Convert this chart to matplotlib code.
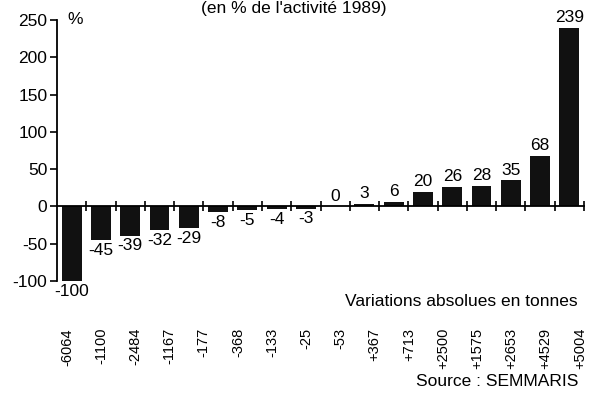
import matplotlib
matplotlib.use("Agg")
import matplotlib.pyplot as plt
import matplotlib.transforms as mtransforms

plt.rcParams['font.family'] = ['Liberation Sans', 'DejaVu Sans']
plt.rcParams['axes.unicode_minus'] = False

# variation in % of 1989 activity
pct = [-100, -45, -39, -32, -29, -8, -5, -4, -3, 0, 3, 6, 20, 26, 28, 35, 68, 239]
# absolute variations in tonnes (the original shows 16 labels under 18 bars)
tonnes = ['-6064', '-1100', '-2484', '-1167', '-177', '-368', '-133', '-25',
          '-53', '+367', '+713', '+2500', '+1575', '+2653', '+4529', '+5004']
yticks = [-100, -50, 0, 50, 100, 150, 200, 250]

FS = 12.5
W, H = 592, 409
fig = plt.figure(figsize=(W / 100, H / 100), dpi=100)
ax = fig.add_axes([57 / W, 1 - 281 / H, 527 / W, 261 / H])

x = list(range(len(pct)))
ax.bar(x, pct, width=0.68, color='#111111')
ax.set_xlim(-0.5, len(pct) - 0.5)
ax.set_ylim(-100, 250)

for xi, v in zip(x, pct):
    if v >= 0:
        ax.annotate(str(v), (xi, v), xytext=(0, 2), textcoords='offset points',
                    ha='center', va='bottom', fontsize=FS)
    else:
        ax.annotate(str(v), (xi, v), xytext=(0, -2), textcoords='offset points',
                    ha='center', va='top', fontsize=FS)

for s in ['top', 'right']:
    ax.spines[s].set_visible(False)
ax.spines['bottom'].set_position(('data', 0))
ax.spines['left'].set_linewidth(1.3)
ax.spines['bottom'].set_linewidth(1.3)

ax.set_yticks(yticks)
ax.tick_params(axis='y', direction='out', length=5, width=1.2, pad=2, labelsize=FS)
ax.set_xticks([i + 0.5 for i in range(len(pct))])
ax.tick_params(axis='x', direction='inout', length=7, width=1.2, labelbottom=False)

ax.text(0.02, 250, '%', transform=mtransforms.blended_transform_factory(ax.transAxes, ax.transData),
        ha='left', va='center', fontsize=FS)

# category labels (own scale, they do not line up with the bars in the source)
ax2 = fig.add_axes(ax.get_position(), frameon=False)
ax2.set_xlim(-0.29, 15.12)
ax2.set_xticks([])
ax2.set_yticks([])
tr = mtransforms.blended_transform_factory(ax2.transData, fig.transFigure)
for j, lab in enumerate(tonnes):
    ax2.text(j, 1 - 328 / H, lab, transform=tr, rotation=90, ha='center', va='top', fontsize=10.5)

fig.text(578 / W, 1 - 302 / H, 'Variations absolues en tonnes', ha='right', va='center', fontsize=FS)
fig.text(578 / W, 1 - 382 / H, 'Source : SEMMARIS', ha='right', va='center', fontsize=FS)
fig.text(294 / W, 1 - 1 / H, "(en % de l'activité 1989)", ha='center', va='top', fontsize=FS)

fig.savefig('out.png', dpi=100)
